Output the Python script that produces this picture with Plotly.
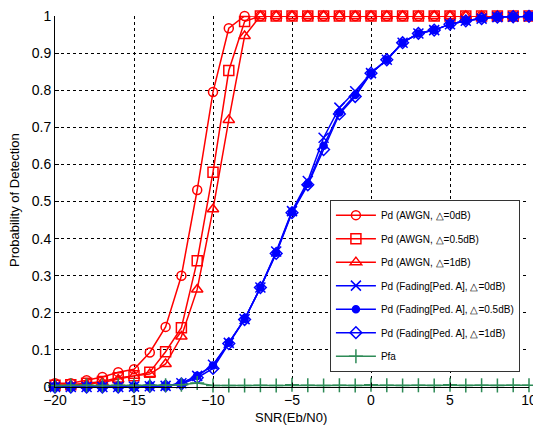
import plotly.graph_objects as go

snr = list(range(-20, 11))

awgn_0 = [0.01, 0.01, 0.018, 0.027, 0.04, 0.048, 0.093, 0.162, 0.30, 0.531, 0.795, 0.967, 1.0,
          1, 1, 1, 1, 1, 1, 1, 1, 1, 1, 1, 1, 1, 1, 1, 1, 1, 1]
awgn_05 = [0.005, 0.006, 0.01, 0.015, 0.025, 0.03, 0.04, 0.095, 0.16, 0.34, 0.579, 0.853, 0.985,
           1, 1, 1, 1, 1, 1, 1, 1, 1, 1, 1, 1, 1, 1, 1, 1, 1, 1]
awgn_1 = [0.004, 0.005, 0.008, 0.012, 0.02, 0.03, 0.035, 0.062, 0.136, 0.263, 0.479, 0.72, 0.946,
          1, 1, 1, 1, 1, 1, 1, 1, 1, 1, 1, 1, 1, 1, 1, 1, 1, 1]
fad_0 = [0.0, 0.0, 0.0, 0.0, 0.0, 0.001, 0.002, 0.003, 0.01, 0.03, 0.06, 0.119, 0.183, 0.268, 0.365,
         0.474, 0.555, 0.672, 0.753, 0.797, 0.846, 0.882, 0.928, 0.953, 0.962, 0.978, 0.987, 0.993, 0.997, 0.998, 0.999]
fad_05 = [0.0, 0.0, 0.0, 0.0, 0.0, 0.001, 0.002, 0.003, 0.01, 0.03, 0.058, 0.119, 0.183, 0.268, 0.362,
          0.472, 0.548, 0.65, 0.74, 0.787, 0.846, 0.882, 0.928, 0.953, 0.962, 0.978, 0.987, 0.993, 0.997, 0.998, 0.999]
fad_1 = [0.0, 0.0, 0.0, 0.0, 0.0, 0.001, 0.002, 0.003, 0.008, 0.025, 0.05, 0.117, 0.182, 0.268, 0.36,
         0.47, 0.545, 0.64, 0.736, 0.783, 0.846, 0.882, 0.928, 0.953, 0.962, 0.978, 0.987, 0.993, 0.997, 0.998, 0.999]
pfa = [0.004, 0.005, 0.005, 0.004, 0.005, 0.004, 0.005, 0.005, 0.006, 0.011, 0.004, 0.004, 0.004,
       0.005, 0.004, 0.006, 0.005, 0.004, 0.005, 0.004, 0.006, 0.005, 0.004, 0.005, 0.004, 0.006, 0.004, 0.005, 0.004, 0.005, 0.005]

names = ["Pd (AWGN, △=0dB)", "Pd (AWGN, △=0.5dB)", "Pd (AWGN, △=1dB)",
         "Pd (Fading[Ped. A], △=0dB)", "Pd (Fading[Ped. A], △=0.5dB)",
         "Pd (Fading[Ped. A], △=1dB)", "Pfa"]
x_title = "SNR(Eb/N0)"
y_title = "Probability of Detection"

RED = "#ff0000"
BLUE = "#0000ff"
GREEN = "#2e8b57"

series = [
    (awgn_0, RED, "circle-open", 9),
    (awgn_05, RED, "square-open", 10),
    (awgn_1, RED, "triangle-up-open", 10),
    (fad_0, BLUE, "x-thin-open", 10),
    (fad_05, BLUE, "circle", 7),
    (fad_1, BLUE, "diamond-open", 9),
    (pfa, GREEN, "cross-thin-open", 10),
]

fig = go.Figure()
for i, ((ys, col, sym, sz), nm) in enumerate(zip(series, names)):
    fig.add_trace(go.Scatter(
        x=snr, y=ys, name=nm, mode="lines+markers",
        line=dict(color=col, width=1.5),
        marker=dict(symbol=sym, size=sz, color=col, line=dict(color=col, width=1.5)),
        cliponaxis=False, legendgroup=str(i),
    ))

L, R, T, B = 55, 4, 16, 40
W, H = 533, 427
pw, ph = W - L - R, H - T - B

fig.update_layout(
    width=W, height=H,
    margin=dict(l=L, r=R, t=T, b=B),
    paper_bgcolor="white", plot_bgcolor="white",
    font=dict(family="Arial, Liberation Sans, sans-serif", color="black"),
    showlegend=True,
    legend=dict(
        x=0.58, y=0.505, xanchor="left", yanchor="top",
        bgcolor="white", bordercolor="#333333", borderwidth=1,
        font=dict(size=10, family="Arial, Liberation Sans, sans-serif"),
        traceorder="grouped", tracegroupgap=4.5,
        itemwidth=40,
    ),
    annotations=[
        dict(text=y_title, xref="paper", yref="paper",
             x=(14 - L) / pw, y=(H - B - 200) / ph, xanchor="center", yanchor="middle",
             textangle=-90, showarrow=False, font=dict(size=13)),
        dict(text=x_title, xref="paper", yref="paper",
             x=(291 - L) / pw, y=(H - B - 417) / ph, xanchor="center", yanchor="middle",
             showarrow=False, font=dict(size=13)),
    ],
)
fig.update_xaxes(
    range=[-20, 10], tickvals=[-20, -15, -10, -5, 0, 5, 10],
    ticks="inside", ticklen=4, tickcolor="black",
    showline=True, linecolor="black", linewidth=1, mirror=False,
    showgrid=True, gridcolor="black", griddash="dot", gridwidth=1,
    zeroline=False, tickfont=dict(size=14), ticklabeloverflow="allow",
    automargin=False,
)
fig.update_yaxes(
    range=[0, 1], dtick=0.1,
    ticks="inside", ticklen=4, tickcolor="black",
    showline=True, linecolor="black", linewidth=1, mirror=False,
    showgrid=True, gridcolor="black", griddash="dot", gridwidth=1,
    zeroline=False, tickfont=dict(size=14), ticklabeloverflow="allow",
    automargin=False,
)
fig.write_html("out.html")
